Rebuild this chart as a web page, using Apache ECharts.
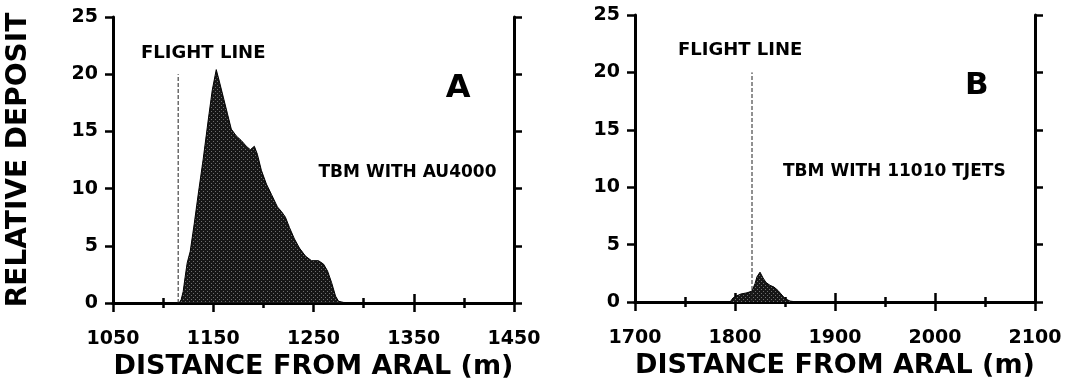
<!DOCTYPE html>
<html>
<head>
<meta charset="utf-8">
<script src="https://cdn.jsdelivr.net/npm/echarts@6/dist/echarts.min.js"></script>
<style>
html,body{margin:0;padding:0;background:#fff;}
#chart{width:1078px;height:391px;}
</style>
</head>
<body>
<div id="chart"></div>
<script>
// ---- Data ----
const panelADistance = [1100,1116,1118,1120,1122,1124,1127,1131,1135,1140,1145,1149,1153,1156,1160,1164,1168,1173,1178,1183,1187,1191,1194,1198,1203,1208,1214,1218,1222,1226,1231,1236,1242,1248,1255,1260,1264,1268,1272,1275,1280,1290];
const panelADeposit  = [0,0,0.3,1.0,2.3,3.5,4.5,6.9,9.5,12.6,16.0,18.6,20.4,19.4,18.0,16.6,15.2,14.6,14.2,13.7,13.4,13.7,13.0,11.6,10.4,9.5,8.4,8.0,7.5,6.6,5.6,4.8,4.1,3.7,3.7,3.4,2.8,1.8,0.6,0.15,0.05,0];

const panelBDistance = [1795,1798,1802,1806,1812,1817,1820,1822,1825,1828,1831,1835,1839,1843,1846,1850,1855,1862];
const panelBDeposit  = [0,0.35,0.55,0.7,0.8,0.95,1.6,2.2,2.6,2.1,1.7,1.45,1.3,1.0,0.7,0.3,0.08,0];

const flightLineA = [[1115,0],[1115,20]];
const flightLineB = [[1817,0],[1817,20]];

const xRangeA = [1050,1450];
const xRangeB = [1700,2100];
const yRange  = [0,25];

const labelsA = [
  {text:'FLIGHT LINE', at:[1078,21.8], size:18},
  {text:'A', at:[1382,18.7], size:32},
  {text:'TBM WITH AU4000', at:[1255,11.4], size:17}
];
const labelsB = [
  {text:'FLIGHT LINE', at:[1743,21.9], size:18},
  {text:'B', at:[2030,18.8], size:31},
  {text:'TBM WITH 11010 TJETS', at:[1848,11.4], size:17}
];

const xTitle = 'DISTANCE FROM ARAL (m)';
const yTitle = 'RELATIVE DEPOSIT';

// ---- Build ----
const FONT = 'DejaVu Sans';
function zip(a,b){return a.map((v,i)=>[v,b[i]]);}

// stippled dark fill
const pat = document.createElement('canvas');
pat.width = 4; pat.height = 4;
const pc = pat.getContext('2d');
pc.fillStyle = '#161616'; pc.fillRect(0,0,4,4);
pc.fillStyle = '#6e6e6e'; pc.fillRect(1,1,1,1); pc.fillRect(3,3,1,1);

const axisLine = {lineStyle:{color:'#000',width:3}};
function xAx(range, gridIndex, pos, showLabel){
  return {
    type:'value', gridIndex, position:pos, min:range[0], max:range[1], interval:100,
    axisLine, axisTick:{show:true,length:9,lineStyle:{color:'#000',width:2.5}},
    minorTick:{show:true,splitNumber:2,length:5,lineStyle:{color:'#000',width:2.5}},
    splitLine:{show:false}, minorSplitLine:{show:false},
    axisLabel:{show:showLabel,formatter:v=>String(v),fontFamily:FONT,fontWeight:'bold',fontSize:19,color:'#000',margin:27},
    name: showLabel ? xTitle : '', nameLocation:'middle', nameGap:48,
    nameTextStyle:{fontFamily:FONT,fontWeight:'bold',fontSize:27,color:'#000'}
  };
}
function yAx(gridIndex, pos, showLabel, showName){
  return {
    type:'value', gridIndex, position:pos, min:yRange[0], max:yRange[1], interval:5,
    axisLine, axisTick:{show:true,length:8,lineStyle:{color:'#000',width:2.5}},
    splitLine:{show:false},
    axisLabel:{show:showLabel,formatter:v=>String(v),fontFamily:FONT,fontWeight:'bold',fontSize:19,color:'#000',margin:15},
    name: showName ? yTitle : '', nameLocation:'middle', nameGap:80,
    nameTextStyle:{fontFamily:FONT,fontWeight:'bold',fontSize:28,color:'#000'}
  };
}
function areaSeries(data, xi, yi){
  return {type:'line', xAxisIndex:xi, yAxisIndex:yi, data, showSymbol:false, symbol:'none',
    lineStyle:{color:'#000',width:1}, areaStyle:{color:{image:pat,repeat:'repeat'},opacity:1}, z:2};
}
function dashSeries(data, xi, yi){
  return {type:'line', xAxisIndex:xi, yAxisIndex:yi, data, symbol:'none',
    lineStyle:{color:'#222',width:1,type:[4,2]}, z:3};
}
function textSeries(labels, xi, yi){
  return {type:'scatter', xAxisIndex:xi, yAxisIndex:yi, symbolSize:0, silent:true, z:5,
    itemStyle:{opacity:1,color:'#000'},
    data: labels.map(l=>({value:l.at, label:{show:true, formatter:l.text, position:[0,0],
      align:'left', verticalAlign:'middle', fontFamily:FONT, fontWeight:'bold', fontSize:l.size, color:'#000', opacity:1}}))};
}

const chart = echarts.init(document.getElementById('chart'), null, {renderer:'canvas'});
chart.setOption({
  animation:false,
  backgroundColor:'#fff',
  grid:[
    {left:113, top:17, width:401, height:286},
    {left:635, top:15, width:400, height:287}
  ],
  xAxis:[
    xAx(xRangeA,0,'bottom',true),
    xAx(xRangeA,0,'top',false),
    xAx(xRangeB,1,'bottom',true),
    xAx(xRangeB,1,'top',false)
  ],
  yAxis:[
    yAx(0,'left',true,true),
    yAx(0,'right',false,false),
    yAx(1,'left',true,false),
    yAx(1,'right',false,false)
  ],
  series:[
    areaSeries(zip(panelADistance,panelADeposit),0,0),
    areaSeries(zip(panelBDistance,panelBDeposit),2,2),
    dashSeries(flightLineA,0,0),
    dashSeries(flightLineB,2,2),
    textSeries(labelsA,0,0),
    textSeries(labelsB,2,2)
  ]
});
</script>
</body>
</html>
